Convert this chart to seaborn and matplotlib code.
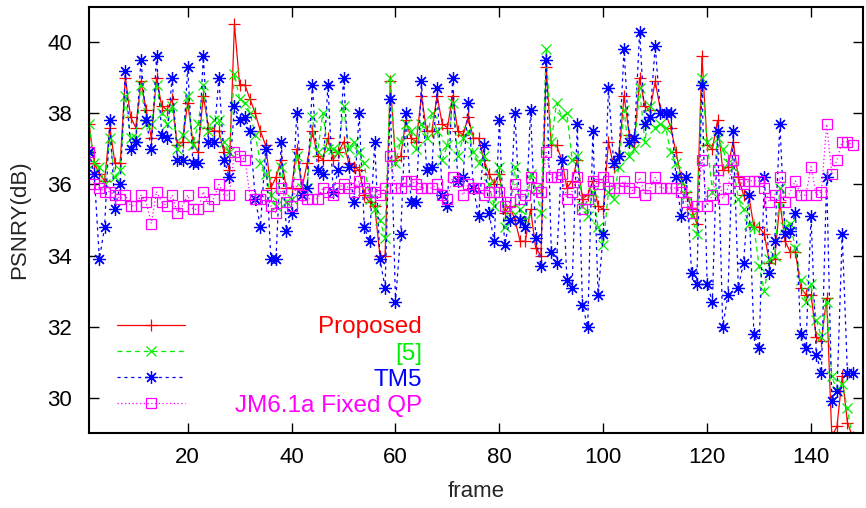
import numpy as np
import pandas as pd
import matplotlib
matplotlib.use("Agg")
import matplotlib.pyplot as plt
import seaborn as sns

proposed = [37.7, 36.6, 36.3, 36.1, 37.6, 36.6, 36.6, 39.0, 37.9, 37.6,
            38.9, 38.1, 37.3, 39.0, 38.2, 38.1, 38.4, 37.1, 37.2, 38.3,
            37.2, 36.9, 38.5, 37.6, 37.5, 37.5, 36.9, 36.4, 40.5, 38.8,
            38.8, 38.4, 38.0, 37.5, 37.1, 35.9, 36.2, 36.7, 35.9, 35.9,
            37.0, 35.9, 36.6, 37.5, 36.8, 36.7, 37.3, 36.7, 36.9, 37.2,
            36.6, 36.5, 36.4, 35.7, 35.5, 35.4, 34.0, 34.0, 38.9, 36.7,
            36.8, 37.8, 37.3, 37.2, 38.5, 37.5, 37.5, 38.5, 37.7, 37.6,
            38.5, 37.5, 37.4, 37.9, 37.3, 37.3, 36.7, 36.3, 36.0, 36.3,
            35.2, 35.4, 35.0, 34.4, 34.4, 35.3, 34.2, 34.0, 39.3, 37.1,
            37.1, 36.7, 35.9, 36.1, 36.7, 35.6, 35.7, 36.1, 35.4, 35.3,
            37.2, 36.5, 36.8, 38.5, 37.4, 37.2, 39.0, 38.2, 38.1, 38.9,
            38.1, 38.0, 37.6, 36.9, 36.2, 35.8, 35.3, 34.9, 39.6, 37.1,
            37.0, 37.8, 36.4, 36.5, 37.2, 36.2, 35.7, 35.7, 34.8, 34.8,
            34.6, 33.8, 33.9, 35.5, 34.4, 34.1, 34.1, 33.1, 32.9, 32.9,
            31.7, 31.6, 32.8, 28.9, 29.2, 30.6, 29.3, 28.9]

ref5 = [37.7, 36.6, 36.5, 36.0, 37.3, 36.2, 36.4, 38.5, 37.3, 37.3,
        38.8, 37.7, 37.7, 38.8, 38.0, 37.7, 38.2, 37.0, 37.4, 38.5,
        37.1, 37.7, 38.8, 37.5, 37.8, 37.8, 37.2, 36.9, 39.1, 38.4,
        38.3, 38.0, 37.4, 36.6, 36.3, 35.7, 35.4, 36.5, 35.5, 35.6,
        36.8, 35.9, 35.9, 37.9, 36.9, 38.0, 37.0, 37.0, 36.9, 38.2,
        37.0, 37.2, 36.9, 36.6, 35.6, 35.3, 35.0, 34.5, 39.0, 36.6,
        37.2, 37.7, 37.5, 37.0, 37.7, 37.3, 38.0, 37.5, 36.7, 37.1,
        38.3, 36.8, 37.3, 37.5, 36.9, 36.6, 36.8, 36.0, 35.4, 36.5,
        34.8, 35.3, 36.5, 35.3, 35.0, 36.3, 35.9, 35.2, 39.8, 37.2,
        38.3, 37.9, 38.0, 36.7, 36.8, 35.4, 35.1, 35.8, 34.8, 34.3,
        35.8, 35.6, 36.5, 38.1, 36.8, 37.0, 38.7, 37.2, 38.2, 37.6,
        37.7, 37.6, 36.9, 36.6, 36.1, 35.7, 35.1, 34.6, 39.0, 37.2,
        35.8, 37.3, 37.0, 36.6, 36.5, 35.6, 35.3, 34.9, 34.8, 33.7,
        33.0, 33.9, 34.0, 35.9, 34.8, 34.9, 34.2, 33.3, 32.7, 33.2,
        32.2, 31.7, 32.7, 30.6, 30.2, 30.4, 29.7, 28.8]

tm5 = [36.9, 36.3, 33.9, 34.8, 37.8, 35.3, 36.0, 39.2, 37.0, 37.2,
       39.5, 37.8, 37.0, 39.6, 37.4, 37.3, 39.0, 36.7, 36.7, 39.3,
       36.6, 36.6, 39.6, 37.2, 37.2, 39.0, 36.7, 36.2, 38.2, 37.8,
       37.9, 37.5, 35.6, 34.8, 37.0, 33.9, 33.9, 37.2, 34.7, 35.2,
       38.0, 35.7, 35.9, 38.8, 36.4, 36.3, 38.8, 35.8, 36.4, 39.0,
       36.5, 35.5, 38.0, 34.8, 34.4, 37.2, 33.9, 33.1, 38.4, 32.7,
       34.6, 38.0, 35.5, 35.5, 38.9, 36.4, 36.5, 38.7, 35.7, 35.4,
       39.0, 36.1, 36.2, 38.3, 35.9, 35.1, 37.1, 35.2, 34.4, 37.8,
       34.3, 35.0, 38.0, 35.0, 34.8, 38.1, 34.5, 33.7, 39.5, 34.1,
       33.8, 36.7, 33.3, 33.1, 37.7, 32.6, 32.0, 37.5, 32.9, 34.6,
       38.7, 36.6, 36.8, 39.8, 37.2, 37.3, 40.3, 37.7, 37.9, 39.9,
       38.0, 38.0, 38.0, 36.2, 35.1, 36.2, 33.5, 33.2, 38.8, 33.2,
       32.7, 37.5, 32.0, 32.9, 37.5, 33.1, 33.8, 35.7, 31.8, 31.4,
       36.2, 33.5, 34.4, 37.7, 34.6, 34.7, 35.2, 31.8, 31.4, 35.1,
       31.2, 30.7, 36.2, 29.9, 30.2, 34.6, 30.7, 30.7]

jm61a = [36.9, 36.0, 35.9, 35.8, 35.8, 35.7, 35.6, 35.7, 35.4, 35.4,
         35.7, 35.5, 34.9, 35.8, 35.5, 35.4, 35.7, 35.2, 35.4, 35.7,
         35.3, 35.3, 35.8, 35.4, 35.6, 36.0, 35.7, 35.7, 36.9, 36.8,
         36.7, 35.7, 35.6, 35.6, 35.7, 35.4, 35.2, 35.9, 35.5, 35.4,
         36.0, 35.7, 35.6, 35.6, 35.6, 35.9, 35.8, 35.7, 35.9, 36.0,
         35.9, 35.8, 36.1, 35.9, 35.8, 35.8, 35.7, 35.9, 36.8, 35.9,
         35.9, 36.1, 36.1, 36.0, 35.9, 35.9, 35.9, 36.0, 35.7, 35.6,
         36.2, 36.1, 35.7, 36.0, 35.9, 35.9, 35.7, 35.8, 35.8, 35.8,
         35.4, 35.5, 36.0, 35.6, 35.7, 36.2, 35.9, 35.8, 36.9, 36.2,
         36.2, 36.3, 35.6, 35.8, 36.2, 35.3, 35.6, 36.1, 36.0, 36.2,
         36.1, 35.9, 35.9, 36.1, 35.9, 35.8, 36.2, 35.7, 35.9, 36.2,
         35.9, 35.9, 35.9, 35.9, 35.8, 35.5, 35.2, 35.4, 36.7, 35.4,
         35.7, 36.4, 35.6, 35.9, 36.7, 36.1, 36.0, 36.1, 36.1, 36.1,
         35.9, 35.5, 35.7, 36.2, 35.5, 35.8, 36.1, 35.7, 35.7, 36.5,
         35.7, 35.8, 37.7, 36.3, 36.7, 37.2, 37.2, 37.1]

frames = list(range(1, len(proposed) + 1))
labels = ["Proposed", "[5]", "TM5", "JM6.1a Fixed QP"]
xticks = [20, 40, 60, 80, 100, 120, 140]
yticks = [30, 32, 34, 36, 38, 40]

sns.set_style("ticks")
plt.rcParams["font.family"] = ["Liberation Sans", "DejaVu Sans"]

FS = 16
LFS = 17.5

fig = plt.figure(figsize=(8.66, 5.08), dpi=100)
ax = fig.add_axes([89 / 866, (508 - 433.3) / 508, 774 / 866, 426.6 / 508])

series = [proposed, ref5, tm5, jm61a]
colors = ["#ff0000", "#00ee00", "#0000ff", "#ff00ff"]
styles = [
    dict(marker="+", markersize=8, markeredgewidth=0.9, linestyle="-", linewidth=0.9),
    dict(marker="x", markersize=6.5, markeredgewidth=0.9, linestyle=(0, (4, 3)), linewidth=0.9),
    dict(marker=(8, 2, 0), markersize=9, markeredgewidth=0.9, linestyle=(0, (2.5, 3)), linewidth=0.9),
    dict(marker="s", markersize=7.5, markeredgewidth=0.9, markerfacecolor="none",
         linestyle=(0, (1, 2)), linewidth=0.9),
]

for vals, c, st, lab in zip(series, colors, styles, labels):
    df = pd.DataFrame({"frame": frames, "psnr": vals})
    kw = dict(st)
    kw.setdefault("markeredgecolor", c)
    sns.lineplot(data=df, x="frame", y="psnr", ax=ax, color=c, label=lab,
                 legend=False, **kw)

ax.set_xlim(1, 150)
ax.set_ylim(29, 41)
ax.set_xticks(xticks)
ax.set_yticks(yticks)
ax.set_xticklabels([str(t) for t in xticks])
ax.set_yticklabels([str(t) for t in yticks])
ax.tick_params(direction="in", length=7, width=1.0, labelsize=FS,
               top=True, right=True, colors="black")
ax.tick_params(axis="y", pad=12)
ax.tick_params(axis="x", pad=10)
for sp in ax.spines.values():
    sp.set_visible(True)
    sp.set_linewidth(1.5)
    sp.set_color("black")

ax.set_xlabel("frame", fontsize=FS)
ax.set_ylabel("PSNRY(dB)", fontsize=FS)
ax.xaxis.set_label_coords(0.5, -0.112)
ax.yaxis.set_label_coords(-0.076, 0.5)

# legend: sample lines on the left, right-aligned coloured labels
handles, labs = ax.get_legend_handles_labels()
leg = ax.legend(handles, [""] * len(handles), loc="upper left",
                bbox_to_anchor=(0.036, 0.274),
                frameon=False, handlelength=68 / (LFS * 100 / 72),
                handletextpad=0.0, labelspacing=0.17, borderpad=0,
                borderaxespad=0, numpoints=1, fontsize=LFS)
fig.canvas.draw()
inv = fig.transFigure.inverted()
x_right_disp = ax.transAxes.transform(((422 - 89) / 774, 0))[0]
for t, lab, c in zip(leg.get_texts(), labs, colors):
    b = t.get_window_extent()
    x, y = inv.transform((x_right_disp, b.y0))
    fig.text(x, y, lab, ha="right", va="baseline", color=c, fontsize=LFS)

fig.savefig("out.png", dpi=100)
